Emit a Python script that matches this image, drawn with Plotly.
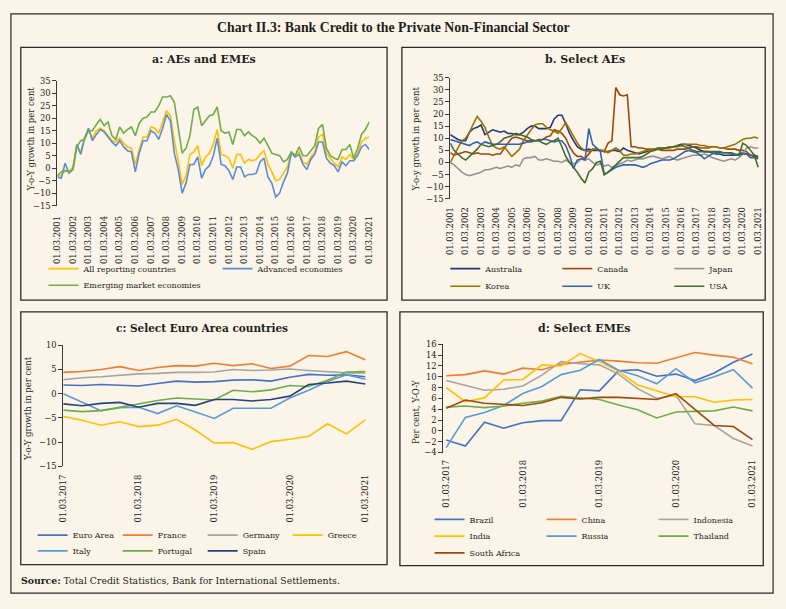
import plotly.graph_objects as go

W, H = 786, 609
BG = "#FBF4E8"
INK = "#231F20"
AXC = "#3A3A3A"
SERIF = "DejaVu Serif"

# ---------------- DATA ----------------
quarters_a = [f"01.{m:02d}.{y}" for y in range(2001, 2022) for m in (3, 6, 9, 12)][:81]
years_a = [f"01.03.{y}" for y in range(2001, 2022)]

all_reporting = [-3, -3, -1, -1.5, 0.5, 9, 6.5, 12.5, 15.5, 12,
                 15, 16, 15, 13, 11, 10.5, 12, 10, 8.5, 8,
                 1.5, 7.5, 12.5, 12.5, 16.5, 16, 14, 18.5, 23, 21,
                 11, 3, -6.5, -3, 5.5, 6.5, 9, 1, 4.5, 6,
                 9.5, 15.5, 5.5, 5, 4, 0, 5.5, 5.5, 2, 3.5,
                 3, 3.5, 5.5, 7, 1.5, -1.5, -5, -4.5, -2, 0.5,
                 6.5, 5, 6.5, 2.5, 1.5, 4.5, 6.5, 12.5, 13.5, 6,
                 4, 2, 0.5, 4.5, 3.5, 5.5, 3.5, 6, 10.5, 12, 12.5]
advanced = [-3.5, -4, 2, -2, -0.5, 9.5, 5.5, 12, 16, 11,
            13.5, 15.5, 14.5, 12.5, 10.5, 9, 11, 8.5, 7, 6.5,
            -1.5, 6, 11, 11, 15, 14, 11.5, 16, 21.5, 19,
            6, -0.5, -10, -6, 1.5, 1.5, 4.5, -4, -0.5, 1,
            5, 12, 1.5, 1, -1, -4.5, 0.5, 0.5, -3.5, -2.5,
            -2.5, -2, 2.5, 4, -3.5, -6, -11.5, -10, -5.5, -2,
            6, 4.5, 5.5, 1.5, -0.5, 3.5, 5.5, 10.5, 10.5, 4,
            2, 1, -1.5, 2.5, 1, 3, 3, 5, 8.5, 9.5, 7.5]
emerging = [-3, -1.5, -1, -1.5, -0.5, 8.5, 11, 11.5, 15, 15,
            17.5, 19.5, 17, 18.5, 13, 11.5, 16.5, 14, 15.5, 16.5,
            13, 18, 20, 20.5, 22.5, 22.5, 25, 28.5, 28.5, 29,
            26.5, 16, 6, 8, 13, 23.5, 24.5, 17, 19, 21,
            21.5, 24.5, 15, 14, 14.5, 9.5, 15.5, 15.5, 13, 14.5,
            13, 12, 10, 12, 9, 6, 5.5, 5, 2.5, 3.5,
            6.5, 5, 8.5, 5, 5, 7, 9, 16, 17.5, 8,
            5, 4, 3.5, 7.5, 7.5, 9.5, 4, 8, 13.5, 15.5, 18.5]

australia = [11.5, 10.5, 9.5, 9, 9, 12.5, 14, 14.5, 15.5, 11.5,
             12.5, 13.5, 13, 12.5, 13, 12, 12, 11.5, 11.5, 12.5,
             14, 15, 15, 14, 14, 14, 14.5, 18, 19.5, 19.5,
             16, 12, 9, 6.5, 5.5, 5, 5.5, 5, 5, 5,
             4.5, 4.5, 5, 5, 4.5, 6, 5, 4.5, 4, 3.5,
             4, 4.5, 5, 5.5, 6, 6, 6, 6.5, 6.5, 7,
             7.5, 7.5, 7, 6.5, 6, 5, 4.5, 4.5, 4, 3.5,
             3.5, 3, 3, 3, 3, 3.5, 4, 3.5, 3, 3, 2.5]
canada = [4, 3, 3.5, 4, 4.5, 4, 3.5, 4, 3.5, 3.5,
          3.5, 3, 3.5, 3.5, 6, 8, 10, 10.5, 10, 9.5,
          9, 9, 9, 9.5, 9.5, 10.5, 11, 13.5, 13, 12,
          10, 6.5, 4, 2.5, 2.5, 1.5, 3.5, 5.5, 5.5, 5,
          4.5, 8, 9, 31, 28, 27.5, 28, 6.5, 6.5, 6,
          6, 5.5, 5.5, 5.5, 5.5, 5, 5, 5, 5, 5.5,
          5.5, 5.5, 6, 6.5, 6.5, 6, 6, 6, 6.5, 6.5,
          6, 6, 5.5, 5.5, 5.5, 5, 5, 4.5, 3, 2.5, 2]
japan = [0, -1, -2.5, -4, -5, -5.5, -5, -4.5, -4, -3,
         -3, -2.5, -2, -2.5, -2, -1.5, -2, -1, -1.5, 1.5,
         2, 2, 2.5, 1, 1, 1.5, 1, 0.5, 0.5, 0,
         1, 0, -0.5, 0, 1.5, 1, 1.5, 0, -1, -0.5,
         -1.5, -1, -2, -1.5, -0.5, 0, 1, 0.5, 1, 1.5,
         1.5, 2, 2.5, 2.5, 2, 1.5, 2, 2.5, 1.5, 1,
         1.5, 2, 2.5, 3, 3, 3, 3.5, 3, 2, 1.5,
         1, 0.5, 1, 1.5, 1, 2, 3.5, 6, 6.5, 6, 6]
korea = [0, 3, 6, 9, 10, 12.5, 16, 19, 17, 14.5,
         10.5, 7, 6, 5.5, 6.5, 4.5, 2.5, 4, 5.5, 9,
         11.5, 13.5, 15.5, 16, 16, 14.5, 13.5, 13, 12, 14,
         16.5, 14, 11, 8, 6, 5, 4.5, 5.5, 5.5, 5,
         5, 4, 5, 6, 5, 3, 3, 3.5, 3.5, 4,
         4.5, 5, 5, 5.5, 6, 6, 6, 6.5, 6.5, 7,
         7, 7.5, 7.5, 7.5, 7.5, 7, 7, 6.5, 6.5, 6.5,
         6, 6, 6.5, 7, 7.5, 8.5, 9.5, 10, 10, 10.5, 10]
uk = [9.5, 9, 8.5, 8, 7.5, 7, 8, 8.5, 7.5, 8.5,
      8, 7.5, 7.5, 7.5, 7.5, 7.5, 7.5, 7.5, 7.5, 8,
      8.5, 8.5, 9, 9, 9.5, 9.5, 9, 8.5, 9, 9,
      7, 3, -2.5, 1, 1.5, 1, 14, 7.5, 6, 4.5,
      -5, -4, -3, -2, -1.5, -1, -1, -1, -1, -1.5,
      -2, -1.5, -0.5, 0, 0.5, 1, 1, 1, 1.5, 2.5,
      3.5, 4.5, 5, 4.5, 4, 3, 1.5, 2.5, 3.5, 4,
      4, 4, 4, 3.5, 3, 3, 3.5, 3.5, 2, 2, 1.5]
usa = [8, 5, 3.5, 2, 1, 2.5, 4, 5.5, 7.5, 7,
       6.5, 7, 7.5, 8.5, 10, 10.5, 11, 12, 11.5, 11,
       10.5, 9.5, 9, 9, 8, 7.5, 8.5, 9, 10, 6.5,
       2.5, 0, -2, -4, -6.5, -8.5, -4, -2.5, 0, 0.5,
       -5, -4, -2.5, -1, 0.5, 2, 2, 2, 2, 2,
       2.5, 3.5, 4.5, 5, 5.5, 5.5, 6, 6, 6.5, 6.5,
       7, 6.5, 6, 5, 4.5, 4.5, 4.5, 4.5, 4.5, 4.5,
       4.5, 4, 4, 4, 3.5, 3, 8, 7, 5, 3, -2]

quarters_c = [f"01.{m:02d}.{y}" for y in range(2017, 2022) for m in (3, 6, 9, 12)][:17]
years_c = [f"01.03.{y}" for y in range(2017, 2022)]

euro_area = [1.8, 1.7, 1.9, 1.8, 1.6, 2.1, 2.6, 2.4, 2.5, 2.8, 2.9, 2.6, 3.4, 4.0, 3.8, 3.9, 3.5]
france = [4.4, 4.6, 5.0, 5.6, 4.8, 5.4, 5.8, 5.7, 6.3, 5.8, 6.2, 5.2, 5.7, 7.9, 7.7, 8.7, 7.0]
germany = [2.9, 3.3, 3.5, 3.8, 4.1, 4.2, 4.4, 4.4, 4.5, 5.0, 4.8, 4.9, 5.1, 4.8, 4.5, 4.3, 4.3]
greece = [-4.7, -5.5, -6.5, -5.8, -6.8, -6.5, -5.3, -7.5, -10.2, -10.1, -11.5, -9.9, -9.4, -8.8, -6.2, -8.3, -5.4]
italy = [0.0, -1.7, -3.5, -2.9, -2.8, -4.1, -2.5, -3.8, -5.1, -3.0, -3.0, -3.0, -0.9, 0.7, 2.5, 3.9, 3.0]
portugal = [-3.4, -3.7, -3.5, -2.8, -2.1, -1.4, -0.9, -1.1, -1.3, 0.7, 0.4, 0.8, 1.7, 1.5, 2.8, 4.5, 4.6]
spain = [-2.1, -2.5, -2.0, -1.8, -2.8, -2.0, -2.0, -2.4, -1.2, -1.2, -1.5, -1.2, -0.5, 1.9, 2.2, 2.6, 2.0]

brazil = [-1.7, -2.8, 1.6, 0.5, 1.5, 1.9, 1.9, 7.6, 7.4, 11.1, 11.3, 10.1, 10.5, 9.3, 10.7, 12.7, 14.2]
china = [10.2, 10.4, 11.1, 10.5, 11.6, 11.3, 12.3, 12.7, 13.1, 12.9, 12.6, 12.5, 13.5, 14.5, 14.0, 13.6, 12.4]
indonesia = [9.3, 8.4, 7.5, 7.7, 8.3, 10.3, 12.8, 12.4, 12.2, 10.5, 7.8, 6.0, 6.6, 1.3, 1.0, -1.4, -2.8]
india = [8.0, 5.4, 6.1, 9.4, 9.5, 12.2, 12.0, 14.3, 12.8, 11.0, 8.5, 7.4, 6.3, 6.3, 5.3, 5.7, 5.8]
russia = [-3.1, 2.5, 3.4, 4.7, 6.9, 8.2, 10.4, 11.2, 13.2, 11.2, 10.2, 8.7, 11.5, 8.9, 10.0, 11.3, 7.9]
thailand = [4.4, 4.6, 4.3, 4.6, 5.1, 5.5, 6.4, 6.1, 5.8, 4.8, 3.9, 2.4, 3.5, 3.6, 3.7, 4.4, 3.7]
south_africa = [4.2, 5.7, 5.1, 4.9, 4.7, 5.2, 6.2, 5.9, 6.2, 6.2, 6.0, 5.8, 6.9, 4.0, 1.0, 0.8, -1.6]

# ---------------- HELPERS ----------------
def px(x):
    return x / W

def py(y):
    return 1 - y / H

def xd(a, b):
    return [a / W, b / W]

def yd(top, bot):
    return [1 - bot / H, 1 - top / H]

fig = go.Figure()

def add(xs, ys, name, color, xa, ya, legend):
    fig.add_trace(go.Scatter(x=xs, y=ys, name=name, mode="lines",
                             line=dict(color=color, width=1.6),
                             xaxis=xa, yaxis=ya, legend=legend, hoverinfo="skip"))

# panel a
add(quarters_a, all_reporting, "All reporting countries", "#FFC000", "x", "y", "legend")
add(quarters_a, advanced, "Advanced economies", "#5B8DD6", "x", "y", "legend")
add(quarters_a, emerging, "Emerging market economies", "#70AD47", "x", "y", "legend2")
# panel b
add(quarters_a, australia, "Australia", "#22387A", "x2", "y2", "legend3")
add(quarters_a, canada, "Canada", "#9E480E", "x2", "y2", "legend3")
add(quarters_a, japan, "Japan", "#939393", "x2", "y2", "legend3")
add(quarters_a, korea, "Korea", "#997300", "x2", "y2", "legend4")
add(quarters_a, uk, "UK", "#2F62B0", "x2", "y2", "legend4")
add(quarters_a, usa, "USA", "#3F6E2A", "x2", "y2", "legend4")
# panel c
add(quarters_c, euro_area, "Euro Area", "#4472C4", "x3", "y3", "legend5")
add(quarters_c, france, "France", "#ED7D31", "x3", "y3", "legend5")
add(quarters_c, germany, "Germany", "#A5A5A5", "x3", "y3", "legend5")
add(quarters_c, greece, "Greece", "#FFC000", "x3", "y3", "legend5")
add(quarters_c, italy, "Italy", "#5B9BD5", "x3", "y3", "legend6")
add(quarters_c, portugal, "Portugal", "#70AD47", "x3", "y3", "legend6")
add(quarters_c, spain, "Spain", "#264478", "x3", "y3", "legend6")
# panel d
add(quarters_c, brazil, "Brazil", "#4472C4", "x4", "y4", "legend7")
add(quarters_c, china, "China", "#ED7D31", "x4", "y4", "legend7")
add(quarters_c, indonesia, "Indonesia", "#A5A5A5", "x4", "y4", "legend7")
add(quarters_c, india, "India", "#FFC000", "x4", "y4", "legend8")
add(quarters_c, russia, "Russia", "#5B9BD5", "x4", "y4", "legend8")
add(quarters_c, thailand, "Thailand", "#70AD47", "x4", "y4", "legend8")
add(quarters_c, south_africa, "South Africa", "#9E480E", "x4", "y4", "legend9")

TICKFS = 8.4

def xcat(domain, rng, ticks, anchor, standoff):
    return dict(domain=domain, type="category", range=rng, anchor=anchor,
                tickmode="array", tickvals=ticks, ticktext=ticks, tickangle=-90,
                tickfont=dict(family=SERIF, size=TICKFS, color=INK),
                showgrid=False, showline=False, zeroline=False,
                ticks="outside", ticklen=standoff, tickcolor="rgba(0,0,0,0)")

def yax(domain, rng, dtick, anchor):
    return dict(domain=domain, range=rng, dtick=dtick, tick0=0, anchor=anchor,
                showline=True, linecolor=AXC, linewidth=1, ticks="outside",
                ticklen=4, tickcolor=AXC, tickwidth=1, showgrid=False, zeroline=False,
                tickfont=dict(family=SERIF, size=TICKFS, color=INK))

def zero_axis(over, rng, ydom, yrng, step):
    pos = ydom[0] + (0 - yrng[0]) / (yrng[1] - yrng[0]) * (ydom[1] - ydom[0])
    return dict(overlaying=over, anchor="free", position=pos, type="linear", range=rng,
                tickmode="linear", tick0=0, dtick=step, showticklabels=False,
                showline=True, linecolor=AXC, linewidth=1, ticks="outside",
                ticklen=4, tickcolor=AXC, showgrid=False, zeroline=False)

ya_dom = yd(77, 204); ya_rng = [-15, 35]
yb_dom = yd(74, 197); yb_rng = [-15, 35]
yc_dom = yd(346, 469); yc_rng = [-15, 10]
yd_dom = yd(345, 455); yd_rng = [-4, 16]

xa_rng = [0, 80]
xb_rng = [0, 80.8]
xc_rng = [0, 16.16]
xdd_rng = [-0.15, 16.2]

def leg(x_line, y_row, ew):
    return dict(orientation="h", x=px(x_line - 5), xanchor="left", y=py(y_row), yanchor="middle",
                bgcolor="rgba(0,0,0,0)", borderwidth=0,
                font=dict(family=SERIF, size=8, color=INK),
                entrywidth=ew, entrywidthmode="pixels", itemwidth=30,
                itemclick=False, itemdoubleclick=False)

shapes = []
def rect(x0, y0, x1, y1, w=1.3):
    shapes.append(dict(type="rect", xref="paper", yref="paper",
                       x0=px(x0), x1=px(x1), y0=py(y1), y1=py(y0),
                       line=dict(color="#2A2A2A", width=w), fillcolor="rgba(0,0,0,0)", layer="below"))

rect(6, 9, 778, 598, 1.2)
rect(16, 43, 387, 300)
rect(402, 43, 770, 300)
rect(16, 312, 387, 569)
rect(400, 312, 768, 570)

annotations = []
def text(x, y, s, size, bold=False, angle=0, anchor="center", family=SERIF):
    annotations.append(dict(x=px(x), y=py(y), xref="paper", yref="paper", text=(f"<b>{s}</b>" if bold else s),
                            showarrow=False, textangle=angle, xanchor=anchor, yanchor="middle",
                            font=dict(family=family, size=size, color=INK)))

text(393, 23, "Chart II.3: Bank Credit to the Private Non-Financial Sector", 13.8, True, family="Liberation Serif")
text(202, 55, "a: AEs and EMEs", 11, True)
text(587, 55, "b. Select AEs", 11, True)
text(200, 328, "c: Select Euro Area countries", 10.5, True)
text(586, 329, "d: Select EMEs", 11, True)
text(26, 136, "Y-o-Y growth in per cent", 8.5, angle=-90)
text(416, 136, "Y-o-y growth in per cent", 8.5, angle=-90)
text(24, 410, "Y-o-Y growth in per cent", 8.5, angle=-90)
text(417, 414, "Per cent, Y-O-Y", 8.5, angle=-90)
annotations.append(dict(x=px(14), y=py(585), xref="paper", yref="paper",
                        text="<b>Source:</b> Total Credit Statistics, Bank for International Settlements.",
                        showarrow=False, xanchor="left", yanchor="middle",
                        font=dict(family=SERIF, size=9.3, color=INK)))

fig.update_layout(
    width=W, height=H, autosize=False,
    margin=dict(l=0, r=0, t=0, b=0, pad=0),
    paper_bgcolor=BG, plot_bgcolor="rgba(0,0,0,0)",
    showlegend=True,
    xaxis=xcat(xd(53, 369), xa_rng, years_a, "y", 6),
    yaxis=yax(ya_dom, ya_rng, 5, "x"),
    xaxis2=xcat(xd(451, 766), xb_rng, years_a, "y2", 4),
    yaxis2=yax(yb_dom, yb_rng, 5, "x2"),
    xaxis3=xcat(xd(59, 368), xc_rng, years_c, "y3", 4),
    yaxis3=yax(yc_dom, yc_rng, 5, "x3"),
    xaxis4=xcat(xd(444, 761), xdd_rng, years_c, "y4", 3),
    yaxis4=yax(yd_dom, yd_rng, 2, "x4"),
    xaxis5=zero_axis("x", xa_rng, ya_dom, ya_rng, 4),
    xaxis6=zero_axis("x2", xb_rng, yb_dom, yb_rng, 4),
    xaxis7=zero_axis("x3", xc_rng, yc_dom, yc_rng, 4),
    xaxis8=zero_axis("x4", xdd_rng, yd_dom, yd_rng, 4),
    legend=leg(44, 268, 129),
    legend2=leg(44, 285, 129),
    legend3=leg(451, 268, 67),
    legend4=leg(451, 286, 67),
    legend5=leg(33, 539, 40),
    legend6=leg(33, 555, 40),
    legend7=leg(435, 523, 67),
    legend8=leg(435, 540, 67),
    legend9=leg(435, 557, 67),
    shapes=shapes,
    annotations=annotations,
)

fig.write_html("out.html", config={"displayModeBar": False},
               post_script="document.body.style.margin='0px';")
